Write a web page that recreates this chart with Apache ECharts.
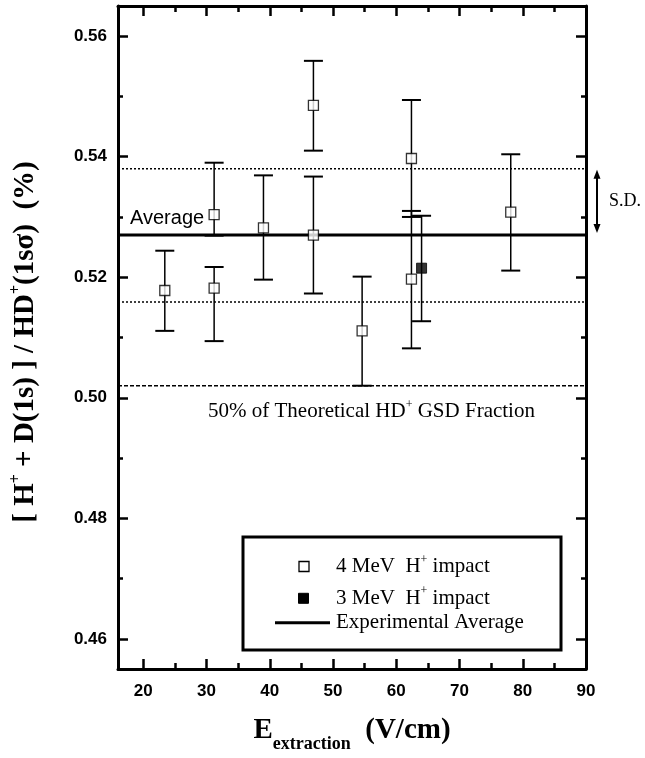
<!DOCTYPE html>
<html><head><meta charset="utf-8">
<script src="https://cdn.jsdelivr.net/npm/echarts@6/dist/echarts.min.js"></script>
<style>html,body{margin:0;padding:0;background:#fff;}#c{width:645px;height:758px;}</style>
</head><body><div id="c"></div>
<script>
// ---- data ----
const xMajorTicks = [20, 30, 40, 50, 60, 70, 80, 90];
const xMinorTicks = [25, 35, 45, 55, 65, 75, 85];
const yMajorTicks = [0.46, 0.48, 0.50, 0.52, 0.54, 0.56];
const yMinorTicks = [0.47, 0.49, 0.51, 0.53, 0.55];
const xRange = [16, 90];
const yRange = [0.455, 0.565];

const seriesNames = ['4 MeV  H+ impact', '3 MeV  H+ impact', 'Experimental Average'];

const e4x  = [23.4, 31.2, 31.2, 39.0, 46.9, 46.9, 54.6, 62.4, 62.4, 78.1];
const e4y  = [0.5178, 0.5304, 0.5182, 0.5282, 0.5485, 0.5270, 0.5111, 0.5397, 0.5197, 0.5308];
const e4lo = [0.5111, 0.5269, 0.5094, 0.5196, 0.5410, 0.5173, 0.5020, 0.5300, 0.5082, 0.5211];
const e4hi = [0.5244, 0.5390, 0.5217, 0.5369, 0.5559, 0.5367, 0.5201, 0.5494, 0.5310, 0.5404];

const e3x  = [64.0];
const e3y  = [0.5215];
const e3lo = [0.5127];
const e3hi = [0.5302];

const averageValue = 0.5270;
const sdUpper = 0.5380;
const sdLower = 0.5159;
const theoryHalf = 0.5020;

// ---- build ----
const chart = echarts.init(document.getElementById('c'), null, {renderer: 'canvas'});
const SANS = 'Liberation Sans, Arial, sans-serif';
const SERIF = 'Liberation Serif, Times New Roman, serif';

function errRender(params, api) {
  const x = api.value(0), lo = api.value(1), hi = api.value(2);
  const a = api.coord([x, lo]), b = api.coord([x, hi]);
  const hw = 9.5;
  return {type: 'group', children: [
    {type: 'line', shape: {x1: a[0], y1: a[1], x2: b[0], y2: b[1]}, style: {stroke: '#000', lineWidth: 1.5}},
    {type: 'line', shape: {x1: a[0] - hw, y1: a[1], x2: a[0] + hw, y2: a[1]}, style: {stroke: '#000', lineWidth: 2}},
    {type: 'line', shape: {x1: b[0] - hw, y1: b[1], x2: b[0] + hw, y2: b[1]}, style: {stroke: '#000', lineWidth: 2}}
  ]};
}

function hline(v) { return [[xRange[0], v], [xRange[1], v]]; }

function xAx(pos, ticks, len, labels, line) {
  return {type: 'value', position: pos, min: xRange[0], max: xRange[1],
    axisLine: {show: line, onZero: false, lineStyle: {color: '#000', width: 3}},
    axisTick: {show: true, inside: true, length: len, customValues: ticks, lineStyle: {color: '#000', width: 2.5}},
    axisLabel: labels ? {show: true, customValues: ticks, margin: 14, fontFamily: SANS, fontWeight: 'bold', fontSize: 17, color: '#000'} : {show: false},
    splitLine: {show: false}};
}
function yAx(pos, ticks, len, labels, line) {
  return {type: 'value', position: pos, min: yRange[0], max: yRange[1],
    axisLine: {show: line, onZero: false, lineStyle: {color: '#000', width: 3}},
    axisTick: {show: true, inside: true, length: len, customValues: ticks, lineStyle: {color: '#000', width: 2.5}},
    axisLabel: labels ? {show: true, customValues: ticks, margin: 11, fontFamily: SANS, fontWeight: 'bold', fontSize: 17, color: '#000',
      formatter: v => v.toFixed(2)} : {show: false},
    splitLine: {show: false}};
}

const xAxes = [xAx('bottom', xMajorTicks, 10, true, true), xAx('bottom', xMinorTicks, 6, false, false),
               xAx('top', xMajorTicks, 10, false, true), xAx('top', xMinorTicks, 6, false, false)];
xAxes[0].name = '{b|E}{sub|extraction}{b|  (V/cm)}';
xAxes[0].nameLocation = 'middle';
xAxes[0].nameGap = 39;
xAxes[0].nameTextStyle = {fontFamily: SERIF, fontWeight: 'bold', fontSize: 29, color: '#000',
  rich: {b: {fontFamily: SERIF, fontWeight: 'bold', fontSize: 29, color: '#000'},
         sub: {fontFamily: SERIF, fontWeight: 'bold', fontSize: 18, color: '#000', padding: [27, 0, 0, 0]}}};

const yAxes = [yAx('left', yMajorTicks, 10, true, true), yAx('left', yMinorTicks, 5, false, false),
               yAx('right', yMajorTicks, 10, false, true), yAx('right', yMinorTicks, 5, false, false)];
yAxes[0].name = '{b|[ H}{sup|+}{b| + D(1s) ] / HD}{sup|+}{b|(1sσ)  (%)}';
yAxes[0].nameLocation = 'middle';
yAxes[0].nameRotate = 90;
yAxes[0].nameGap = 75;
yAxes[0].nameTextStyle = {fontFamily: SERIF, fontWeight: 'bold', fontSize: 29, color: '#000', padding: [0, 9, 0, 0],
  rich: {b: {fontFamily: SERIF, fontWeight: 'bold', fontSize: 29, color: '#000'},
         sup: {fontFamily: SERIF, fontWeight: 'bold', fontSize: 16, color: '#000', padding: [0, 0, 19, 0]}}};

const option = {
  animation: false,
  backgroundColor: '#fff',
  grid: {left: 118, right: 59, top: 6, bottom: 86, containLabel: false},
  xAxis: xAxes,
  yAxis: yAxes,
  series: [
    {name: seriesNames[2], type: 'line', data: hline(averageValue), symbol: 'none', z: 1,
     lineStyle: {color: '#000', width: 3}},
    {name: 'S.D. upper', type: 'line', data: hline(sdUpper), symbol: 'none', z: 1,
     lineStyle: {color: '#000', width: 1.5, type: [2, 2]}},
    {name: 'S.D. lower', type: 'line', data: hline(sdLower), symbol: 'none', z: 1,
     lineStyle: {color: '#000', width: 1.5, type: [2, 2]}},
    {name: '50% of theoretical', type: 'line', data: hline(theoryHalf), symbol: 'none', z: 1,
     lineStyle: {color: '#000', width: 1.5, type: [4, 2]}},
    {name: seriesNames[0] + ' error', type: 'custom', renderItem: errRender, z: 2,
     encode: {x: 0, y: [1, 2]}, data: e4x.map((x, i) => [x, e4lo[i], e4hi[i]])},
    {name: seriesNames[1] + ' error', type: 'custom', renderItem: errRender, z: 2,
     encode: {x: 0, y: [1, 2]}, data: e3x.map((x, i) => [x, e3lo[i], e3hi[i]])},
    {name: seriesNames[0], type: 'scatter', symbol: 'rect', symbolSize: 10, z: 3,
     itemStyle: {color: '#fff', borderColor: '#000', borderWidth: 1.3},
     data: e4x.map((x, i) => [x, e4y[i]])},
    {name: seriesNames[1], type: 'scatter', symbol: 'rect', symbolSize: 10, z: 3,
     itemStyle: {color: '#000', borderColor: '#000', borderWidth: 1},
     data: e3x.map((x, i) => [x, e3y[i]])}
  ]
};
chart.setOption(option);

// annotations anchored to values
const px = v => chart.convertToPixel({xAxisIndex: 0, yAxisIndex: 0}, v);
const pAvg = px([xRange[0], averageValue]);
const pSdR = px([xRange[1], sdUpper]);
const pAvR = px([xRange[1], averageValue]);
const pTh = px([xRange[0], theoryHalf]);
const ax = pSdR[0] + 11, y1 = pSdR[1] + 1, y2 = pAvR[1] - 2;

const supRich = {n: {fontFamily: SERIF, fontSize: 21, color: '#000'},
                 s: {fontFamily: SERIF, fontSize: 12, color: '#000', padding: [0, 0, 14, 0]}};
function supText(name) {
  if (name.indexOf('+') < 0) return '{n|' + name + '}';
  const i = name.indexOf('+');
  return '{n|' + name.slice(0, i) + '}{s|+}{n|' + name.slice(i + 1) + '}';
}
// legend box (Origin style)
const LX = 243, LY = 537, LW = 318, LH = 113;
const rows = [566.5, 598.3, 622.8];
const legendGraphics = [
  {type: 'rect', shape: {x: LX, y: LY, width: LW, height: LH}, style: {fill: '#fff', stroke: '#000', lineWidth: 3}, z: 10},
  {type: 'rect', shape: {x: 299, y: rows[0] - 5, width: 10, height: 10}, style: {fill: '#fff', stroke: '#000', lineWidth: 1.3}, z: 11},
  {type: 'rect', shape: {x: 298.5, y: rows[1] - 5, width: 10, height: 10}, style: {fill: '#000', stroke: '#000', lineWidth: 1}, z: 11},
  {type: 'line', shape: {x1: 275, y1: rows[2], x2: 330, y2: rows[2]}, style: {stroke: '#000', lineWidth: 3}, z: 11}
];
seriesNames.forEach((n, i) => legendGraphics.push(
  {type: 'text', x: 336, y: rows[i], z: 11,
   style: {text: supText(n), verticalAlign: 'middle', fill: '#000', rich: supRich}}));

chart.setOption({
  graphic: legendGraphics.concat([
    {type: 'text', left: pAvg[0] + 12, top: pAvg[1] - 27,
     style: {text: 'Average', font: '20px ' + SANS, fill: '#000'}},
    {type: 'text', x: pTh[0] + 90, y: pTh[1] + 26,
     style: {text: supText('50% of Theoretical HD+ GSD Fraction'), fill: '#000', verticalAlign: 'middle', rich: supRich}},
    {type: 'line', shape: {x1: ax, y1: y1 + 7, x2: ax, y2: y2 - 7}, style: {stroke: '#000', lineWidth: 2}},
    {type: 'polygon', shape: {points: [[ax, y1], [ax - 3.5, y1 + 9], [ax + 3.5, y1 + 9]]}, style: {fill: '#000'}},
    {type: 'polygon', shape: {points: [[ax, y2], [ax - 3.5, y2 - 9], [ax + 3.5, y2 - 9]]}, style: {fill: '#000'}},
    {type: 'text', x: ax + 12, y: (y1 + y2) / 2, style: {text: 'S.D.', font: '18px ' + SERIF, fill: '#000', verticalAlign: 'middle'}}
  ])
});
</script>
</body></html>
